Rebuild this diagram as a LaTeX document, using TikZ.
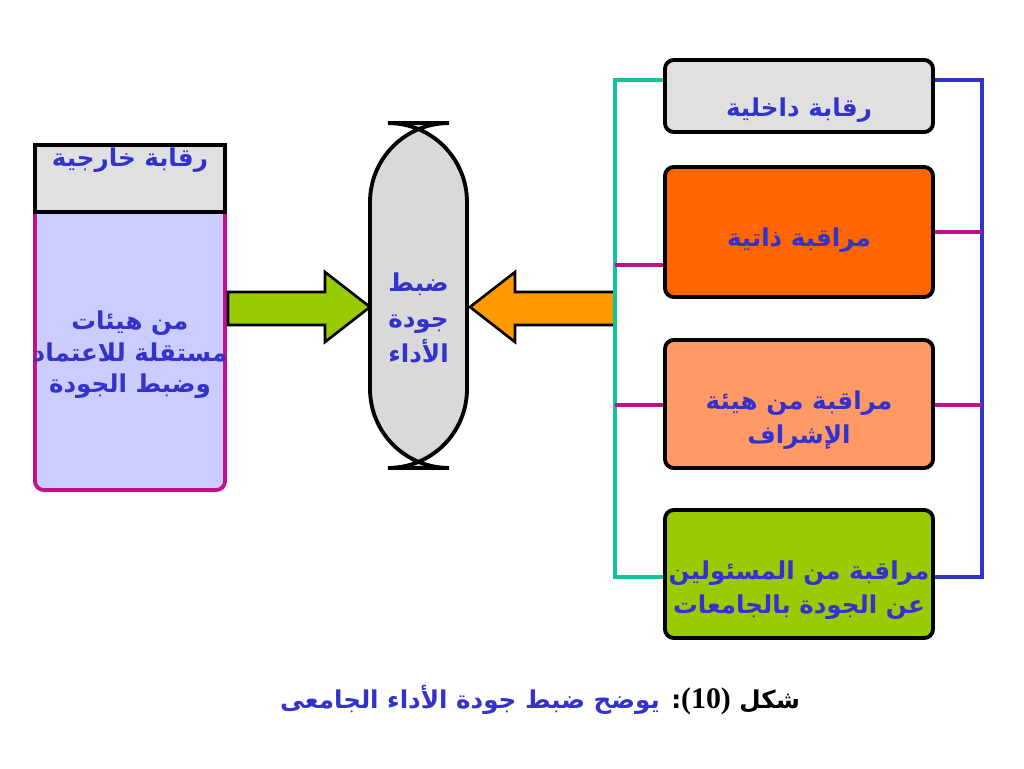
\documentclass[tikz,border=0pt]{standalone}
\usepackage{fontspec}
\newfontfamily\arabicfont[Script=Arabic]{DejaVu Sans}
\setmainfont{Liberation Serif}
\TeXXeTstate=1
\definecolor{tblue}{HTML}{3333CC}
\definecolor{tred}{HTML}{CC3300}
\definecolor{mag}{HTML}{C0118C}
\definecolor{teal2}{HTML}{11C49A}
\definecolor{lineblue}{HTML}{3333CC}
\definecolor{greyf}{HTML}{E0E0E0}
\begin{document}
\begin{tikzpicture}[x=0.02cm,y=-0.02cm,
  box/.style={draw=black,line width=2.2pt,rounded corners=5pt},
  txt/.style={text=tblue,font=\arabicfont\bfseries\fontsize{14}{17}\selectfont,align=center},
  conn/.style={line width=2pt}]
\useasboundingbox (0,0) rectangle (1024,768);
% left box
\filldraw[draw=mag,fill=blue!20,line width=2.2pt,rounded corners=5pt] (35,145) rectangle (225,490);
\filldraw[draw=black,fill=greyf,line width=2.2pt] (35,145) rectangle (225,212);
\node[txt] (ext) at (130,160) {\beginR رقابة خارجية\endR};
\node[txt] (extb) at (130,355) {\beginR من هيئات\endR\\[1pt]\beginR مستقلة للاعتماد\endR\\[1pt]\beginR وضبط الجودة\endR};
% center pill
\node[draw=black,line width=2.2pt,fill=gray!30,rounded corners=45pt,minimum width=1.94cm,minimum height=6.9cm] (pill) at (418.5,295.5) {};
\node[txt] at (418.5,318) {\beginR ضبط\endR\\[3pt]\beginR جودة\endR\\[3pt]\beginR الأداء\endR};
% arrows
\filldraw[draw=black,line width=1.5pt,fill={rgb,255:red,153;green,204;blue,0}]
 (228,292) -- (325,292) -- (325,272) -- (370,307) -- (325,342) -- (325,325) -- (228,325) -- cycle;
\filldraw[draw=black,line width=1.5pt,fill={rgb,255:red,255;green,153;blue,0}]
 (615,292) -- (515,292) -- (515,272) -- (470,307) -- (515,342) -- (515,325) -- (615,325) -- cycle;
% connectors
\draw[conn,teal2] (665,80) -- (615,80) -- (615,577) -- (665,577);
\draw[conn,mag] (615,265) -- (665,265);
\draw[conn,mag] (615,405) -- (665,405);
\draw[conn,lineblue] (933,80) -- (982,80) -- (982,577) -- (933,577);
\draw[conn,mag] (933,232) -- (982,232);
\draw[conn,mag] (933,405) -- (982,405);
% right boxes
\filldraw[box,fill=greyf] (665,60) rectangle (933,132);
\node[txt] (r1) at (799,110) {\beginR رقابة داخلية\endR};
\filldraw[box,fill={rgb,255:red,255;green,102;blue,0}] (665,167) rectangle (933,297);
\node[txt] (r2) at (799,240) {\beginR مراقبة ذاتية\endR};
\filldraw[box,fill={rgb,255:red,255;green,153;blue,102}] (665,340) rectangle (933,468);
\node[txt] (r3) at (799,420) {\beginR مراقبة من هيئة\endR\\[2pt]\beginR الإشراف\endR};
\filldraw[box,fill={rgb,255:red,153;green,204;blue,0}] (665,510) rectangle (933,638);
\node[txt] (r4) at (799,590) {\beginR مراقبة من المسئولين\endR\\[2pt]\beginR عن الجودة بالجامعات\endR};
% caption
\node[txt] (cap) at (540,700) {\beginR{\color{tred}شكل \beginL{\rmfamily\bfseries\fontsize{17}{20}\selectfont(10)}\endL:} يوضح ضبط جودة الأداء الجامعى\endR};
\end{tikzpicture}
\end{document}
